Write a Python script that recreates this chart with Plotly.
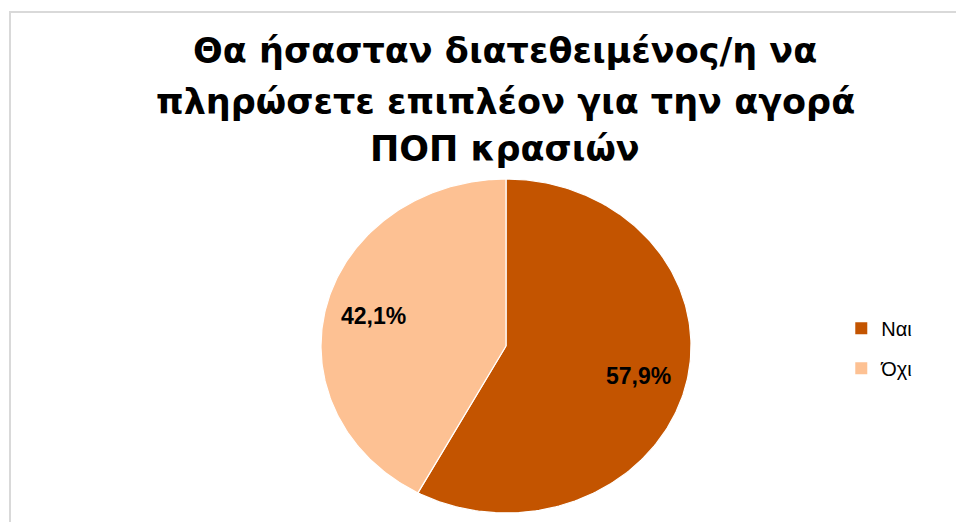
import numpy as np
import plotly.graph_objects as go

# Survey answers and their shares (%)
categories = ["Ναι", "Όχι"]
values = [57.9, 42.1]
value_labels = ["57,9%", "42,1%"]
colors = ["#C35400", "#FDC193"]
title_lines = [
    "Θα ήσασταν διατεθειμένος/η να",
    "πληρώσετε επιπλέον για την αγορά",
    "ΠΟΠ κρασιών",
]

FONT = "Liberation Sans, Arial, sans-serif"
TITLE_FONT = "DejaVu Sans, Verdana, sans-serif"

fig = go.Figure()

# Wedges drawn clockwise from 12 o'clock on a unit circle; the axis
# domains stretch it to the wide oval used by the chart.
total = sum(values)
start = 0.0
label_pos = []
for name, val, col in zip(categories, values, colors):
    a0 = start / total * 2 * np.pi
    a1 = (start + val) / total * 2 * np.pi
    t = np.linspace(a0, a1, 200)
    xs = np.concatenate([[0], np.sin(t), [0]])
    ys = np.concatenate([[0], np.cos(t), [0]])
    fig.add_trace(go.Scatter(
        x=xs, y=ys, mode="lines", fill="toself", fillcolor=col,
        line=dict(color="white", width=1.2), hoverinfo="skip",
        showlegend=False,
    ))
    mid = (a0 + a1) / 2
    label_pos.append((0.74 * np.sin(mid), 0.74 * np.cos(mid)))
    start += val

# Legend entries with square swatches
for name, col in zip(categories, colors):
    fig.add_trace(go.Scatter(
        x=[None], y=[None], mode="markers", name=name, legendgroup=name,
        marker=dict(symbol="square", size=12, color=col),
    ))

for (lx, ly), txt in zip(label_pos, value_labels):
    fig.add_annotation(
        x=lx, y=ly, xref="x", yref="y", text=f"<b>{txt}</b>",
        showarrow=False, font=dict(family=FONT, size=23, color="black"),
    )

# Three-line bold title
title_y = [0.902, 0.805, 0.714]
for line, yy in zip(title_lines, title_y):
    fig.add_annotation(
        x=505 / 956, y=yy, xref="paper", yref="paper", text=f"<b>{line}</b>",
        showarrow=False, font=dict(family=TITLE_FONT, size=35, color="black"),
        xanchor="center", yanchor="middle",
    )

# Chart-area frame
fig.add_shape(
    type="rect", xref="paper", yref="paper",
    x0=10 / 956, x1=1.02, y0=-0.02, y1=1 - 12 / 522,
    line=dict(color="#D9D9D9", width=2), fillcolor="rgba(0,0,0,0)",
    layer="below",
)

fig.update_layout(
    width=956, height=522,
    margin=dict(l=0, r=0, t=0, b=0),
    paper_bgcolor="white", plot_bgcolor="rgba(0,0,0,0)",
    xaxis=dict(domain=[321 / 956, 691 / 956], range=[-1, 1], visible=False,
               fixedrange=True),
    yaxis=dict(domain=[(522 - 513) / 522, (522 - 179) / 522], range=[-1, 1],
               visible=False, fixedrange=True),
    legend=dict(
        x=0.880, y=0.333, xanchor="left", yanchor="middle",
        font=dict(family=FONT, size=20, color="black"),
        traceorder="grouped", tracegroupgap=11,
        itemwidth=30, bgcolor="rgba(0,0,0,0)",
    ),
    showlegend=True,
)

fig.write_html("out.html")
